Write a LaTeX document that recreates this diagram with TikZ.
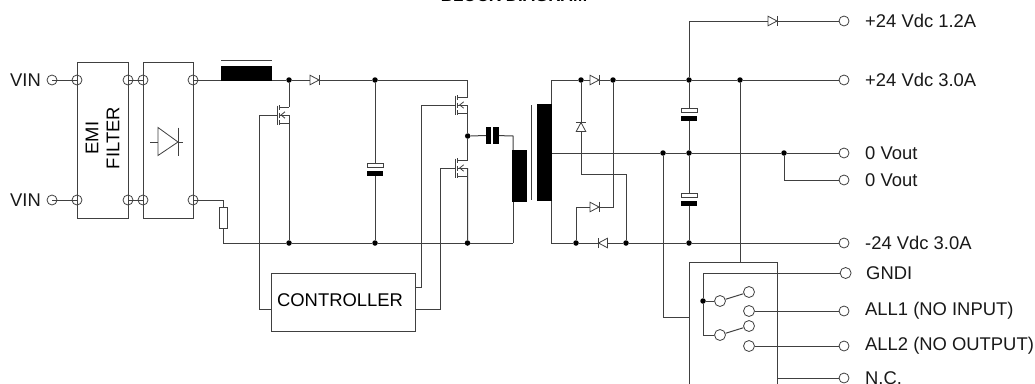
\documentclass[tikz,border=0pt]{standalone}
\usepackage{fontspec}
\setmainfont{Liberation Sans}
\definecolor{wire}{gray}{0.25}
\tikzset{
  wirel/.style={draw=wire,line width=1pt},
  term/.style={circle,draw=wire,line width=0.8pt,minimum size=10pt,inner sep=0pt},
  outterm/.style={term,fill=white},
  contact/.style={term,fill=white,minimum size=11pt},
  joint/.style={circle,fill=black,minimum size=5.5pt,inner sep=0pt},
  lbl/.style={anchor=west,inner sep=0pt,font=\fontsize{18.4}{20}\selectfont,text=black!90},
  blockbox/.style={draw=wire,line width=1pt},
  solid block/.style={fill=black,draw=none},
  capwhite/.style={fill=white,draw=wire,line width=0.8pt},
  diode/.pic={
    \draw[wirel,line width=0.8pt,fill=white] (-4.5,-4.8) -- (4.5,0) -- (-4.5,4.8) -- cycle;
    \draw[wirel,line width=0.8pt] (4.5,-5.2) -- (4.5,5.2);
  },
  mosfet/.pic={
    \draw[wirel,line width=0.8pt] (-12,-9.5) -- (-12,9.5);
    \draw[wirel,line width=0.8pt] (-10,-10) -- (-10,-5) (-10,-2.5) -- (-10,2.5) (-10,5) -- (-10,10);
    \draw[wirel,line width=0.8pt] (-10,-8) -- (0,-8) (-10,8) -- (0,8) (-10,0) -- (0,0);
    \draw[wirel,line width=0.8pt] (-4,-3.2) -- (-8,0) -- (-4,3.2);
    \coordinate (-g) at (-12,0);
    \coordinate (-d) at (0,-8);
    \coordinate (-s) at (0,0);
  },
  elcap/.pic={
    \fill[black] (-8,3.5) rectangle (8,8.5);
    \draw[capwhite] (-8,-4) rectangle (8,0);
    \coordinate (-a) at (0,-4);
    \coordinate (-c) at (0,8.5);
  }
}
\begin{document}
\begin{tikzpicture}[x=1pt,y=-1pt]
\clip (0,0) rectangle (1035,383);
\fill[white] (0,0) rectangle (1035,383);
% title
\node[inner sep=0pt,font=\fontsize{17}{19}\bfseries\selectfont] (title) at (514,-4.2) {BLOCK DIAGRAM};
% input blocks
\node[blockbox,minimum width=51pt,minimum height=156pt,inner sep=0pt] (emi) at (102.5,140) {};
\node[blockbox,minimum width=50pt,minimum height=156pt,inner sep=0pt] (rect) at (168,140) {};
\node[rotate=90,align=center,inner sep=0pt,font=\fontsize{18.4}{21}\selectfont] (emit) at (102.5,138) {EMI\\FILTER};
\node[lbl] (vin1) at (10,80) {VIN};
\node[lbl] (vin2) at (10,200) {VIN};
\node[term] (vt1) at (52,80) {};
\node[term] (vt2) at (52,200) {};
\node[term] (e1) at (77,80) {};
\node[term] (e2) at (77,200) {};
\node[term] (e3) at (128,80) {};
\node[term] (e4) at (128,200) {};
\node[term] (r1) at (143,80) {};
\node[term] (r2) at (143,200) {};
\node[term] (r3) at (193,80) {};
\node[term] (r4) at (193,200) {};
\draw[wirel] (vt1.center) -- (e1.center);
\draw[wirel] (vt2.center) -- (e2.center);
\draw[wirel] (e3.center) -- (r1.center);
\draw[wirel] (e4.center) -- (r2.center);
% bridge symbol
\draw[wirel,line width=0.8pt] (158,127.5) -- (178,142) -- (158,155.5) -- cycle;
\draw[wirel,line width=0.8pt] (178,127.5) -- (178,155.5);
\draw[wirel,line width=0.8pt] (150,142) -- (158,142) (178,142) -- (183,142);
% inductor
\node[solid block,minimum width=51pt,minimum height=15pt,inner sep=0pt] (ind) at (246.5,73.5) {};
\draw[wirel] (221,60) -- (272,60);
% nodes top rail
\coordinate (ind-in) at (ind.west |- r3);
\node[joint] (j1) at (289,80) {};
\node[joint] (j2) at (375,80) {};
\coordinate (qtop) at (467.7,80);
\draw[wirel] (r3.center) -- (ind-in);
\draw[wirel] (272,80) -- (j1) -- (j2) -- (qtop);
\pic at (314.5,80) {diode};
% bottom rail
\node[solid block,draw=wire,minimum width=8pt,minimum height=21pt,inner sep=0pt,fill=white] (shunt) at (223,217.5) {};
\node[joint] (j3) at (289,243) {};
\node[joint] (j4) at (375,243) {};
\node[joint] (j5) at (467.5,243) {};
\coordinate (bl) at (223,243);
\coordinate (bp) at (513,243);
\draw[wirel] (r4.center) -- (223,200) -- (shunt.north);
\draw[wirel] (shunt.south) -- (bl) -- (j3) -- (j4) -- (j5) -- (bp);
% controller
\node[blockbox,minimum width=144pt,minimum height=58pt,inner sep=0pt] (ctl) at (343,302) {};
\node[inner sep=0pt,font=\fontsize{18.4}{20}\selectfont] (ctlt) at (340,300.5) {CONTROLLER};
% Q1
\pic (q1) at (289,115) {mosfet};
\draw[wirel] (j1) -- (q1-d);
\draw[wirel] (q1-s) -- (j3);
\draw[wirel] (q1-g) -- (259.5,115) -- (259.5,309) -- (271,309);
% Q2, Q3
\pic (q2) at (467.7,105) {mosfet};
\pic (q3) at (467.7,168) {mosfet};
\node[joint] (jm) at (467.7,136) {};
\draw[wirel] (qtop) -- (q2-d);
\draw[wirel] (q2-s) -- (jm) -- (q3-d);
\draw[wirel] (q3-s) -- (j5);
\draw[wirel] (q2-g) -- (421,105) -- (421,287) -- (415,287);
\draw[wirel] (q3-g) -- (440,168) -- (440,309) -- (415,309);
% main cap
\pic (c1) at (375,167) {elcap};
\draw[wirel] (j2) -- (c1-a);
\draw[wirel] (c1-c) -- (j4);
% series cap
\node[solid block,minimum width=5pt,minimum height=17pt,inner sep=0pt] (cs1) at (488.5,135.5) {};
\node[solid block,minimum width=5.5pt,minimum height=17pt,inner sep=0pt] (cs2) at (496,135.5) {};
% transformer
\node[solid block,minimum width=15pt,minimum height=52pt,inner sep=0pt] (pri) at (519.5,176) {};
\node[solid block,minimum width=15pt,minimum height=97pt,inner sep=0pt] (sec) at (544.5,152.5) {};
\draw[wirel] (531,105) -- (531,200);
\coordinate (pt) at (513,136);
\draw[wirel] (jm) -- (cs1);
\draw[wirel] (cs2) -- (pt) -- (pt |- pri.north);
\draw[wirel] (pt |- pri.south) -- (bp);
% secondary
\coordinate (st) at (551.5,80);
\coordinate (sb) at (551.5,243);
\node[joint] (d1) at (581,80) {};
\node[joint] (d2) at (613,80) {};
\node[joint] (d3) at (689,80) {};
\node[joint] (d4) at (740,80) {};
\node[outterm] (o2) at (844,80) {};
\node[joint] (b1) at (576,243) {};
\node[joint] (b2) at (626,243) {};
\node[joint] (b3) at (689,243) {};
\node[outterm] (o5) at (844,243) {};
\node[joint] (m1) at (663,153) {};
\node[joint] (m2) at (689,153) {};
\node[joint] (m3) at (784,153) {};
\node[outterm] (o3) at (844,153) {};
\node[outterm] (o4) at (844,180) {};
\node[outterm] (o1) at (844,21) {};
\coordinate (sm) at (552,153);
\draw[wirel] (sec.north -| st) -- (st) -- (d1) -- (d2) -- (d3) -- (d4) -- (o2);
\draw[wirel] (sec.south -| sb) -- (sb) -- (b1) -- (b2) -- (b3) -- (o5);
\draw[wirel] (sm) -- (m1) -- (m2) -- (m3) -- (o3);
\draw[wirel] (m3) -- (784,180) -- (o4);
\draw[wirel] (d3) -- (689,21) -- (o1);
\draw[wirel] (d1) -- (581,174) -- (626,174) -- (b2);
\draw[wirel] (b1) -- (576,207) -- (613,207) -- (d2);
\pic at (594.5,80) {diode};
\pic at (594.5,207) {diode};
\pic[rotate=180] at (603,243) {diode};
\pic[rotate=90] at (581,127) {diode};
\pic at (772.5,21) {diode};
% output caps
\pic (c2) at (689,112) {elcap};
\pic (c3) at (689,197) {elcap};
\draw[wirel] (d3) -- (c2-a);
\draw[wirel] (c2-c) -- (m2) -- (c3-a);
\draw[wirel] (c3-c) -- (b3);
% relay
\node[blockbox,minimum width=88pt,minimum height=140pt,inner sep=0pt] (rel) at (733,332) {};
\draw[wirel] (d4) -- (740,262);
\draw[wirel] (m1) -- (663,317) -- (689,317);
\node[outterm,minimum size=11pt] (gndi) at (845.6,273) {};
\node[outterm] (all1) at (844,311) {};
\node[outterm] (all2) at (844,346) {};
\node[outterm] (nc) at (844,378) {};
\node[joint] (jr) at (703,301) {};
\node[contact] (s1) at (720,301) {};
\node[contact] (s2) at (720,335) {};
\node[contact] (c11) at (749,292) {};
\node[contact] (c12) at (749,311) {};
\node[contact] (c21) at (749,326) {};
\node[contact] (c22) at (749,346) {};
\draw[wirel] (gndi) -- (703,273) -- (jr) -- (703,335) -- (s2);
\draw[wirel] (jr) -- (s1);
\draw[wirel] (s1) -- (c11);
\draw[wirel] (s2) -- (c21);
\draw[wirel] (c12) -- (all1);
\draw[wirel] (c22) -- (all2);
\draw[wirel] (777,378) -- (nc);
% labels
\node[lbl] (l1) at (865,21) {+24 Vdc 1.2A};
\node[lbl] (l2) at (865,80) {+24 Vdc 3.0A};
\node[lbl] (l3) at (865,153) {0 Vout};
\node[lbl] (l4) at (865,180) {0 Vout};
\node[lbl] (l5) at (865,243) {-24 Vdc 3.0A};
\node[lbl] (l6) at (866,273) {GNDI};
\node[lbl] (l7) at (865,311) {ALL1 (NO INPUT)};
\node[lbl] (l8) at (865,346) {ALL2 (NO OUTPUT)};
\node[lbl] (l9) at (865,378) {N.C.};
\end{tikzpicture}
\end{document}
